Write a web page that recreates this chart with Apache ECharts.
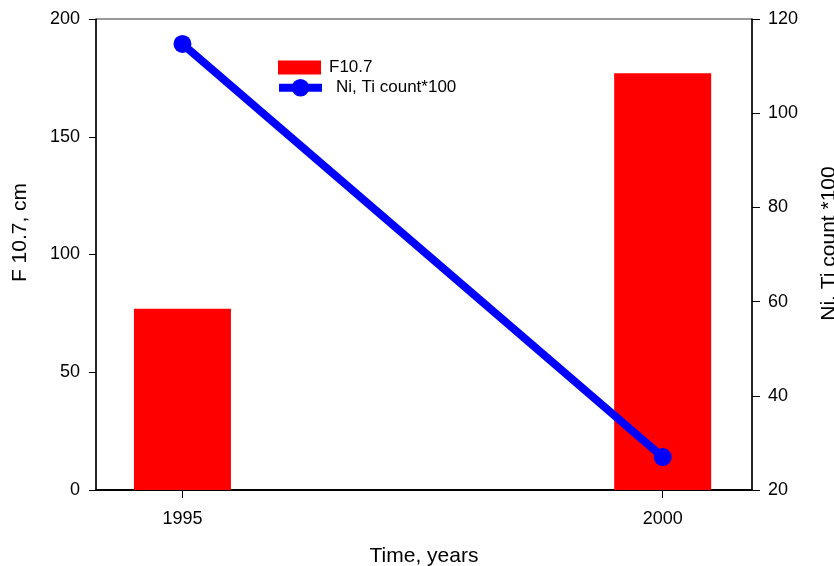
<!DOCTYPE html>
<html>
<head>
<meta charset="utf-8">
<script src="https://cdn.jsdelivr.net/npm/echarts@6/dist/echarts.min.js"></script>
<style>html,body{margin:0;padding:0;background:#fff}#c{width:834px;height:566px}</style>
</head>
<body>
<div id="c"></div>
<script>
const years = [1995, 2000];
const f107 = [77, 177];
const niTi = [114.7, 27];
const leftTicks = [0, 50, 100, 150, 200];
const rightTicks = [20, 40, 60, 80, 100, 120];

const chart = echarts.init(document.getElementById('c'), null, {renderer: 'canvas'});
const font = 'Liberation Sans, Arial, sans-serif';
chart.setOption({
  animation: false,
  textStyle: {fontFamily: font},
  grid: {left: 96, right: 82, top: 19, bottom: 76, show: true, borderColor: '#333', borderWidth: 1,
         containLabel: false, outerBoundsMode: 'none'},
  legend: [{
    data: [{name: 'F10.7', icon: 'rect'}], left: 278, top: 59, orient: 'vertical',
    itemWidth: 43, itemHeight: 14, padding: 0,
    textStyle: {fontSize: 17, color: '#000', fontFamily: font, padding: [0, 0, 0, 3]}
  }, {
    data: ['Ni, Ti count*100'], left: 275, top: 79, orient: 'vertical',
    itemWidth: 43, itemHeight: 22, padding: 0,
    lineStyle: {width: 8},
    textStyle: {fontSize: 17, color: '#000', fontFamily: font, padding: [0, 0, 0, 9]}
  }],
  xAxis: {
    type: 'value', min: 1994.1, max: 2000.93,
    name: 'Time, years', nameLocation: 'middle', nameGap: 56,
    nameTextStyle: {fontSize: 21, color: '#000', fontFamily: font},
    axisLine: {lineStyle: {color: '#000', width: 2}},
    axisTick: {show: true, customValues: years, length: 8, lineStyle: {color: '#000', width: 1}},
    axisLabel: {customValues: years, formatter: v => String(v), fontSize: 18, color: '#000', margin: 20, fontFamily: font},
    splitLine: {show: false}
  },
  yAxis: [{
    type: 'value', min: 0, max: 200, interval: 50, position: 'left',
    name: 'F 10.7, cm', nameLocation: 'middle', nameGap: 65, nameRotate: 90,
    nameTextStyle: {fontSize: 21, color: '#000', fontFamily: font, padding: [0, 0, 0, 44]},
    axisLine: {show: true, lineStyle: {color: '#000', width: 1.5}},
    axisTick: {show: true, length: 7, lineStyle: {color: '#000'}},
    axisLabel: {fontSize: 18, color: '#000', margin: 16, fontFamily: font},
    splitLine: {show: false}
  }, {
    type: 'value', min: 20, max: 120, interval: 20, position: 'right',
    name: 'Ni. Ti count *100', nameLocation: 'middle', nameGap: 67, nameRotate: 90,
    nameTextStyle: {fontSize: 21, color: '#000', fontFamily: font, padding: [0, 0, 0, 22]},
    axisLine: {show: true, lineStyle: {color: '#000', width: 1.5}},
    axisTick: {show: true, length: 8, lineStyle: {color: '#000'}},
    axisLabel: {fontSize: 18, color: '#000', margin: 16, fontFamily: font},
    splitLine: {show: false}
  }],
  series: [{
    name: 'F10.7', type: 'bar', yAxisIndex: 0, barWidth: 97,
    itemStyle: {color: '#ff0000'},
    data: years.map((y, i) => [y, f107[i]])
  }, {
    name: 'Ni, Ti count*100', type: 'line', yAxisIndex: 1,
    symbol: 'circle', symbolSize: 18,
    lineStyle: {color: '#0000ff', width: 8},
    itemStyle: {color: '#0000ff'},
    data: years.map((y, i) => [y, niTi[i]])
  }]
});
</script>
</body>
</html>
